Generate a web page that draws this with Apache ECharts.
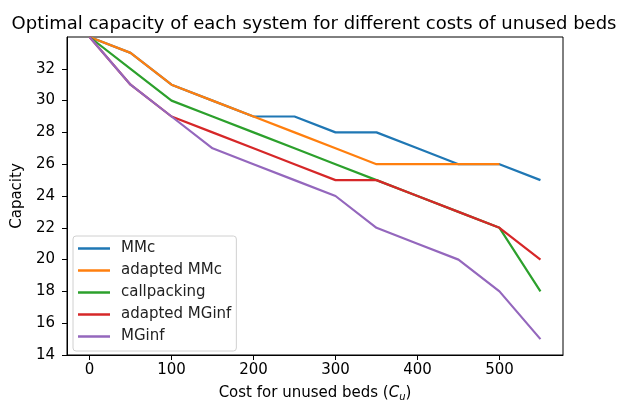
<!DOCTYPE html>
<html>
<head>
<meta charset="utf-8">
<script src="https://cdn.jsdelivr.net/npm/echarts@6/dist/echarts.min.js"></script>
<style>html,body{margin:0;padding:0;background:#fff;}#c{width:633px;height:407px;}</style>
</head>
<body>
<div id="c"></div>
<script>
const costs = [0, 50, 100, 150, 200, 250, 300, 350, 400, 450, 500, 550];
const mmc = [34, 33, 31, 30, 29, 29, 28, 28, 27, 26, 26, 25];
const adaptedMMc = [34, 33, 31, 30, 29, 28, 27, 26, 26, 26, 26];
const callpacking = [34, 32, 30, 29, 28, 27, 26, 25, 24, 23, 22, 18];
const adaptedMGinf = [34, 31, 29, 28, 27, 26, 25, 25, 24, 23, 22, 20];
const mginf = [34, 31, 29, 27, 26, 25, 24, 22, 21, 20, 18, 15];
const xTicks = [0, 100, 200, 300, 400, 500];
const yTicks = [14, 16, 18, 20, 22, 24, 26, 28, 30, 32];
const seriesNames = ['MMc', 'adapted MMc', 'callpacking', 'adapted MGinf', 'MGinf'];
const seriesValues = [mmc, adaptedMMc, callpacking, adaptedMGinf, mginf];
const colors = ['#1f77b4', '#ff7f0e', '#2ca02c', '#d62728', '#9467bd'];

const font = 'DejaVu Sans';
const chart = echarts.init(document.getElementById('c'), null, {renderer: 'canvas'});
chart.setOption({
  animation: false,
  color: colors,
  textStyle: {fontFamily: font},
  title: {
    text: 'Optimal capacity of each system for different costs of unused beds',
    left: 309, top: 10, textAlign: 'center',
    textStyle: {fontFamily: font, fontSize: 18, fontWeight: 'normal', color: '#000'}
  },
  grid: {left: 67, right: 70, top: 37, bottom: 48, show: true, borderColor: '#000', borderWidth: 1, backgroundColor: 'transparent'},
  legend: {
    orient: 'vertical', left: 73, top: 236,
    data: seriesNames,
    icon: 'rect', itemWidth: 32, itemHeight: 2.5, itemGap: 7,
    padding: [5, 5, 7, 5],
    backgroundColor: '#fff', borderColor: '#d0d0d0', borderWidth: 1, borderRadius: 3,
    textStyle: {fontFamily: font, fontSize: 15, lineHeight: 15, color: '#222', padding: [0, 0, 0, 6]}
  },
  xAxis: {
    type: 'value', min: -27.5, max: 577.5,
    name: 'Cost for unused beds ({i|C}{s|u})',
    nameLocation: 'middle', nameGap: 30,
    nameTextStyle: {fontFamily: font, fontSize: 15, color: '#000',
      rich: {i: {fontStyle: 'italic', fontFamily: font, fontSize: 15, color: '#000'},
             s: {fontStyle: 'italic', fontFamily: font, fontSize: 10, color: '#000', verticalAlign: 'bottom', padding: [7, 0, 0, 0]}}},
    axisLine: {show: true, onZero: false, lineStyle: {color: '#000', width: 1}},
    axisTick: {show: true, inside: false, length: 5, customValues: xTicks, lineStyle: {color: '#000'}},
    axisLabel: {customValues: xTicks, color: '#000', fontSize: 15, fontFamily: font, margin: 8},
    splitLine: {show: false}
  },
  yAxis: {
    type: 'value', min: 14, max: 34,
    name: 'Capacity', nameLocation: 'middle', nameGap: 37, nameRotate: 90,
    nameTextStyle: {fontFamily: font, fontSize: 15, color: '#000'},
    axisLine: {show: true, onZero: false, lineStyle: {color: '#000', width: 1}},
    axisTick: {show: true, inside: false, length: 5, customValues: yTicks, lineStyle: {color: '#000'}},
    axisLabel: {customValues: yTicks, color: '#000', fontSize: 15, fontFamily: font, margin: 12},
    splitLine: {show: false}
  },
  series: seriesNames.map((n, i) => ({
    name: n, type: 'line', showSymbol: false, symbol: 'none',
    lineStyle: {width: 2.2, color: colors[i]}, itemStyle: {color: colors[i]},
    data: seriesValues[i].map((v, j) => [costs[j], v]),
    z: 2 + i
  }))
});
</script>
</body>
</html>
